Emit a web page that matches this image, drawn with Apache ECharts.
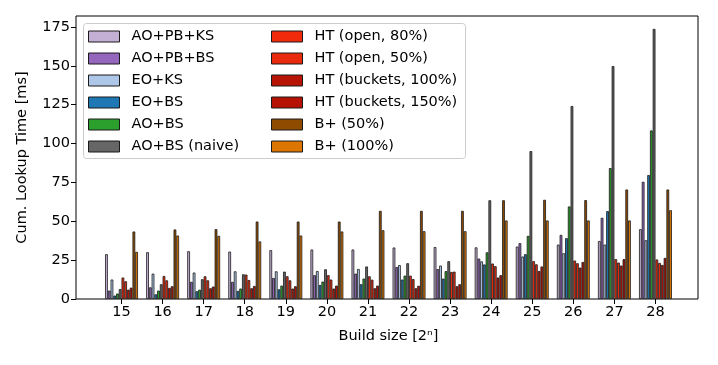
<!DOCTYPE html>
<html>
<head>
<meta charset="utf-8">
<script src="https://cdn.jsdelivr.net/npm/echarts@6/dist/echarts.min.js"></script>
<style>html,body{margin:0;padding:0;background:#fff}#c{width:718px;height:365px}</style>
</head>
<body>
<div id="c"></div>
<script>
const categories = ['15','16','17','18','19','20','21','22','23','24','25','26','27','28'];
const yTicks = [0, 25, 50, 75, 100, 125, 150, 175];
const seriesNames = ['AO+PB+KS','AO+PB+BS','EO+KS','EO+BS','AO+BS','AO+BS (naive)',
  'HT (open, 80%)','HT (open, 50%)','HT (buckets, 100%)','HT (buckets, 150%)','B+ (50%)','B+ (100%)'];
const aoPbKs   = [28.8, 30.1, 30.7, 30.5, 31.4, 31.8, 31.8, 33.1, 33.4, 33.2, 33.7, 35.0, 37.3, 44.9];
const aoPbBs   = [5.4, 7.5, 11.0, 11.0, 13.5, 15.3, 16.3, 20.5, 19.2, 26.0, 35.9, 41.2, 52.2, 75.4];
const eoKs     = [12.5, 16.3, 17.0, 17.8, 17.8, 18.0, 19.3, 21.8, 21.5, 24.2, 27.3, 29.4, 35.0, 37.8];
const eoBs     = [2.2, 3.0, 5.0, 5.2, 6.2, 9.0, 9.5, 12.5, 13.1, 22.2, 28.8, 39.1, 56.5, 79.7];
const aoBs     = [3.5, 5.4, 6.0, 6.7, 8.6, 11.2, 13.1, 15.0, 17.9, 30.0, 40.6, 59.5, 84.2, 108.4];
const aoBsNaive= [6.4, 9.5, 12.7, 15.9, 17.6, 19.1, 20.9, 23.0, 24.3, 63.5, 95.1, 124.1, 149.8, 173.7];
const htOpen80 = [13.8, 14.8, 14.6, 15.7, 14.6, 15.3, 14.6, 15.0, 17.4, 22.8, 24.3, 24.7, 25.6, 25.4];
const htOpen50 = [11.4, 12.0, 12.0, 12.2, 12.0, 12.5, 12.4, 12.8, 17.6, 21.1, 22.3, 23.0, 23.4, 23.2];
const htBuck100= [6.0, 7.1, 6.9, 6.9, 6.7, 6.7, 6.9, 6.9, 8.2, 13.8, 18.0, 20.2, 21.5, 21.9];
const htBuck150= [7.3, 8.2, 8.0, 8.4, 8.2, 8.6, 8.6, 8.5, 9.5, 15.3, 20.9, 23.8, 25.6, 26.4];
const bp50     = [43.4, 44.7, 44.9, 49.8, 49.8, 49.8, 56.7, 56.7, 56.7, 63.5, 63.8, 63.6, 70.4, 70.4];
const bp100    = [30.3, 40.8, 40.6, 37.0, 40.8, 43.4, 44.2, 43.6, 43.6, 50.5, 50.5, 50.5, 50.5, 57.1];
const seriesData = [aoPbKs, aoPbBs, eoKs, eoBs, aoBs, aoBsNaive, htOpen80, htOpen50, htBuck100, htBuck150, bp50, bp100];
const colors = ['#c5b0d5','#9467bd','#aec7e8','#1f77b4','#2ca02c','#666666',
  '#f02a0a','#ea2a0c','#b81405','#b51203','#8f4c00','#dc7600'];

const FONT = 'DejaVu Sans';
const FS = 14.5;
const chart = echarts.init(document.getElementById('c'), null, {renderer: 'canvas'});

const series = seriesNames.map((n, i) => ({
  name: n, type: 'bar', xAxisIndex: 1, yAxisIndex: 1,
  data: seriesData[i], barWidth: 2.74, barGap: '0%',
  itemStyle: {color: colors[i], borderColor: '#1a1a1a', borderWidth: 0.8},
  emphasis: {disabled: true}
}));

const legendCommon = {
  orient: 'vertical', icon: 'rect', itemWidth: 31, itemHeight: 11, itemGap: 7,
  padding: 0,
  textStyle: {fontFamily: FONT, fontSize: FS, color: '#000', padding: [0,0,0,7], lineHeight: 14},
  itemStyle: {borderColor: '#1a1a1a', borderWidth: 1},
  selectedMode: false, top: 29
};

chart.setOption({
  animation: false,
  textStyle: {fontFamily: FONT},
  grid: [
    {left: 76, right: 20, top: 16, bottom: 66, show: true, borderColor: '#000', borderWidth: 1, backgroundColor: 'transparent'},
    {left: 101, right: 42, top: 16, bottom: 66}
  ],
  graphic: [{
    type: 'rect', shape: {x: 83.5, y: 23.5, width: 382, height: 135, r: 3},
    style: {fill: 'rgba(255,255,255,0.8)', stroke: '#cccccc', lineWidth: 1}, z: 5, silent: true
  }],
  legend: [
    Object.assign({}, legendCommon, {left: 88, data: seriesNames.slice(0, 6), z: 10}),
    Object.assign({}, legendCommon, {left: 271, data: seriesNames.slice(6), z: 10})
  ],
  xAxis: [
    {type: 'value', gridIndex: 0, min: 0, max: 1, show: false},
    {type: 'category', gridIndex: 1, data: categories,
     axisLine: {show: false},
     axisTick: {show: true, alignWithLabel: true, length: 5, lineStyle: {color: '#000'}},
     axisLabel: {color: '#000', fontSize: FS, fontFamily: FONT, margin: 6},
     name: 'Build size [2ⁿ]', nameLocation: 'middle', nameGap: 30,
     nameTextStyle: {color: '#000', fontSize: FS, fontFamily: FONT}}
  ],
  yAxis: [
    {type: 'value', gridIndex: 0, min: 0, max: 182,
     axisLine: {show: false}, splitLine: {show: false},
     axisTick: {show: true, length: 5, customValues: yTicks, lineStyle: {color: '#000'}},
     axisLabel: {color: '#000', fontSize: FS, fontFamily: FONT, margin: 6, customValues: yTicks},
     name: 'Cum. Lookup Time [ms]', nameLocation: 'middle', nameGap: 46,
     nameTextStyle: {color: '#000', fontSize: FS, fontFamily: FONT}},
    {type: 'value', gridIndex: 1, min: 0, max: 182, show: false, splitLine: {show: false}}
  ],
  series: series
});
</script>
</body>
</html>
